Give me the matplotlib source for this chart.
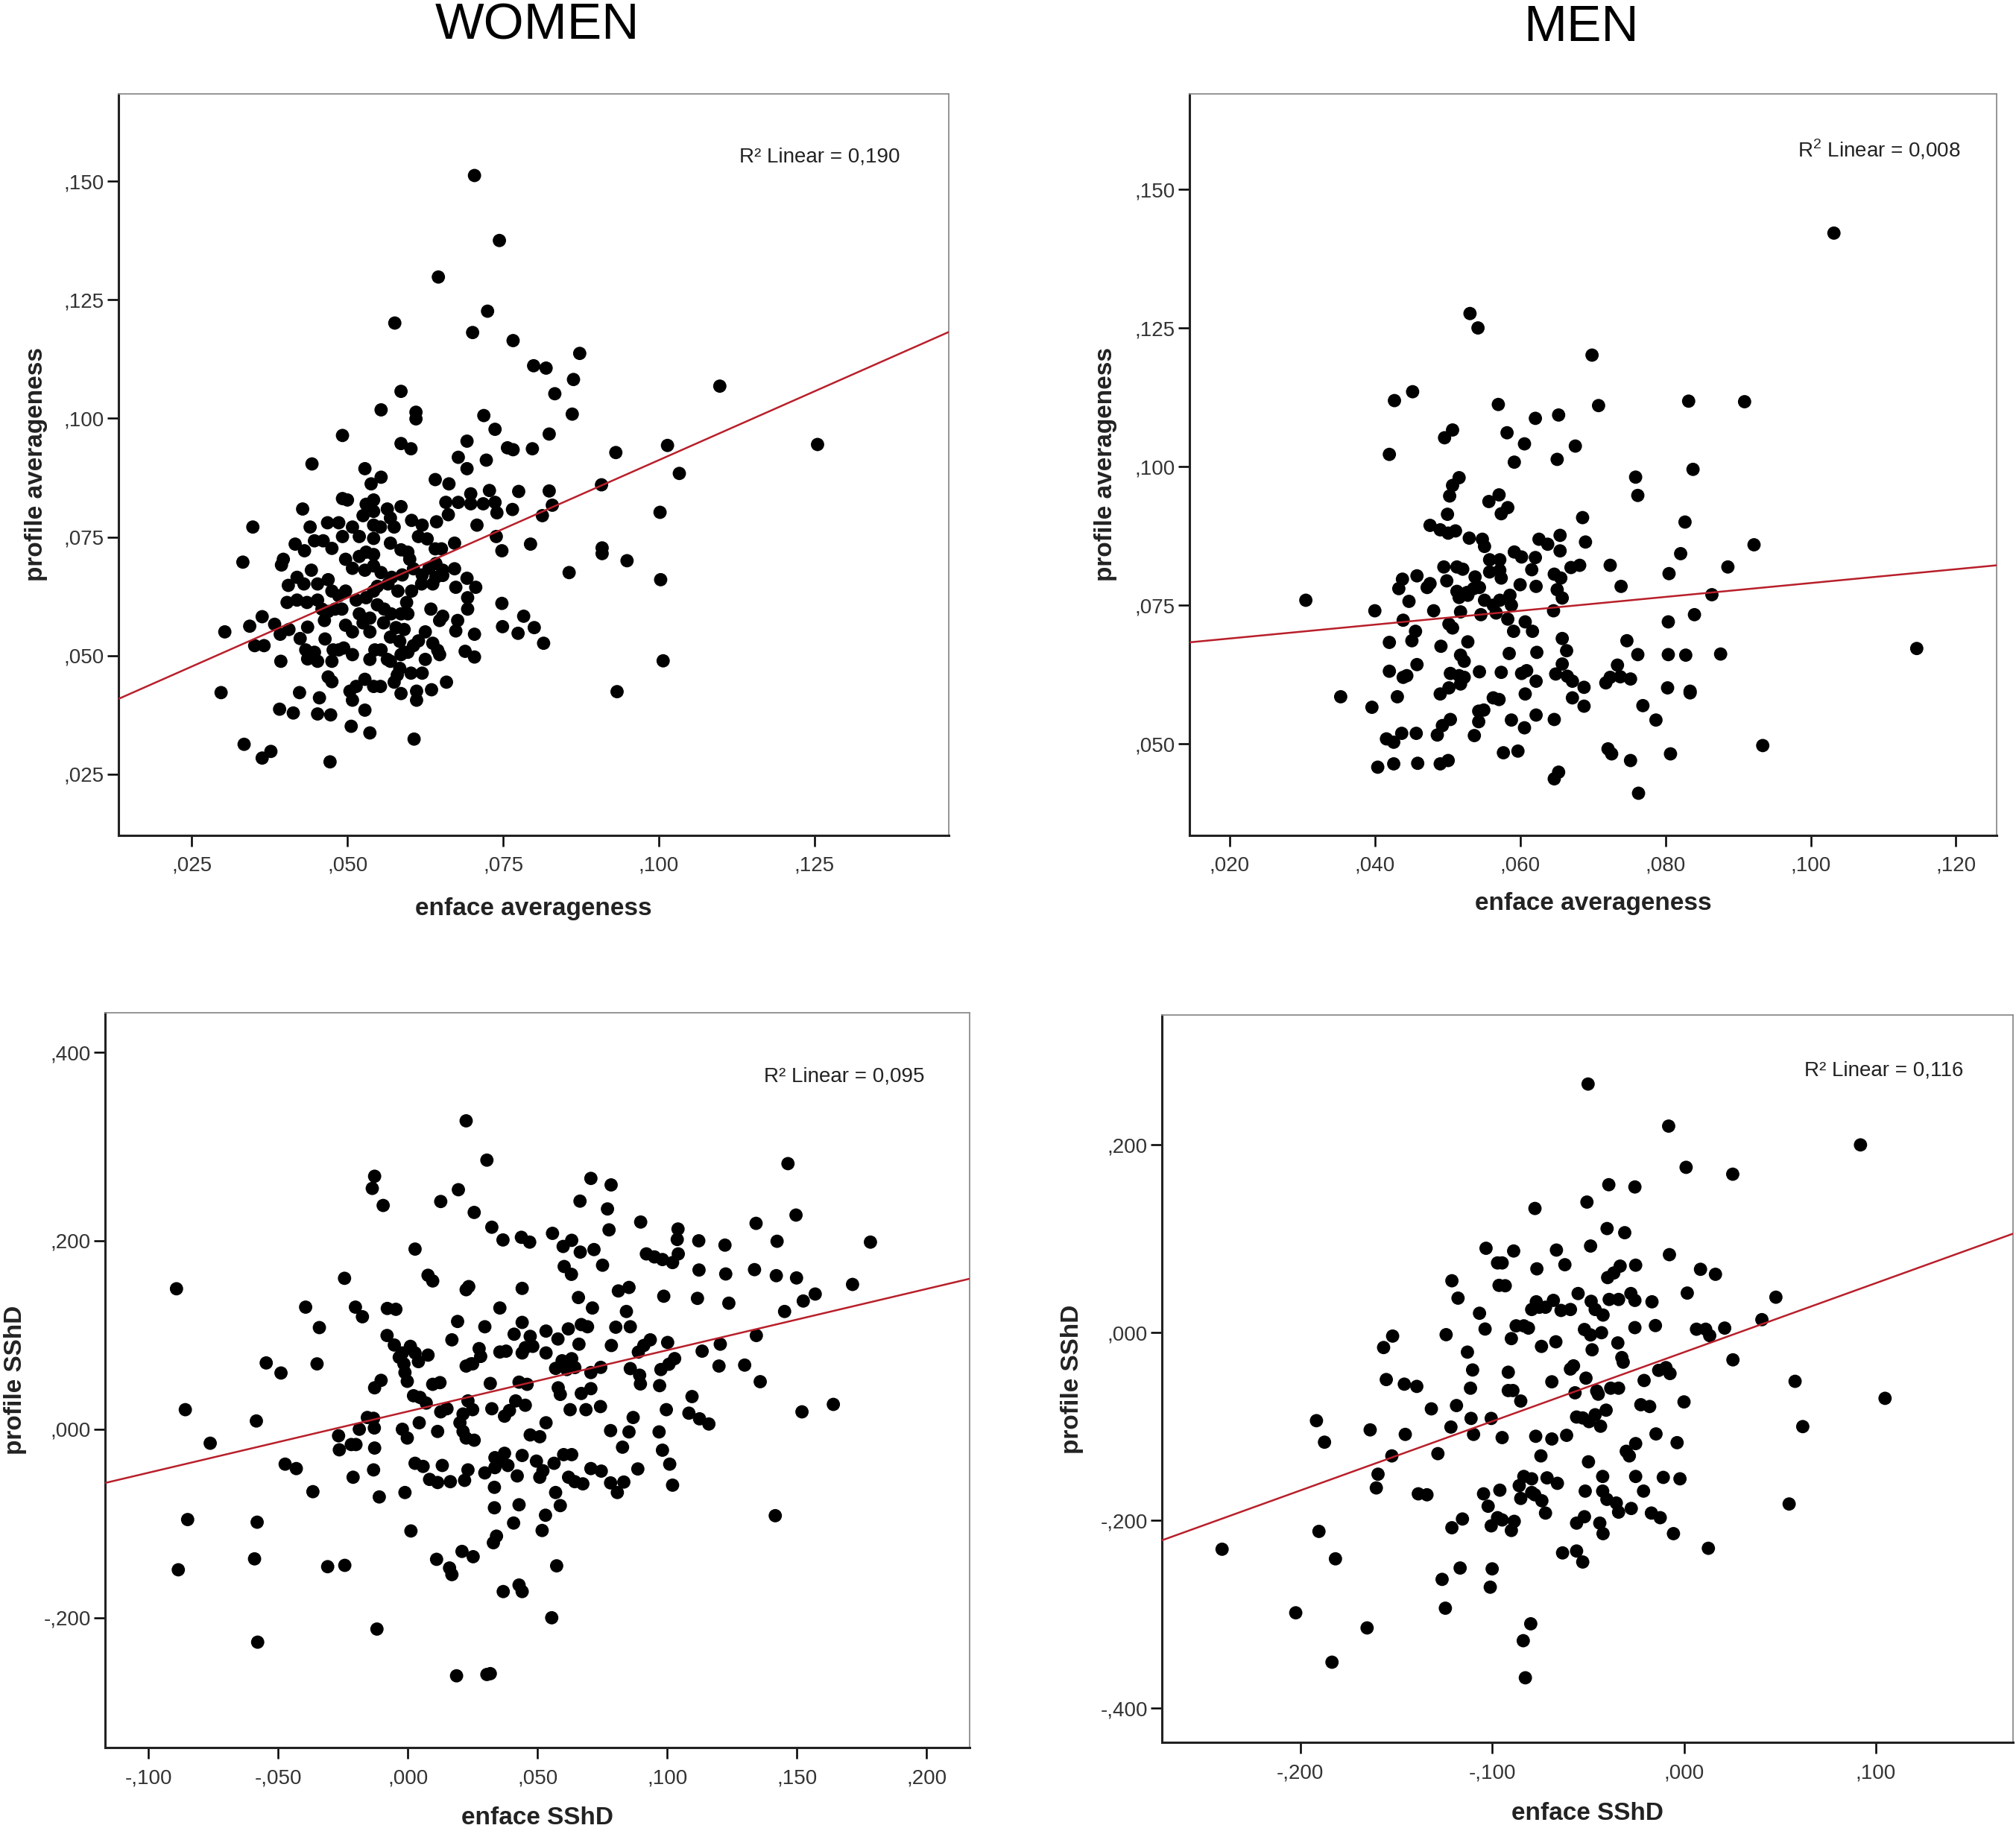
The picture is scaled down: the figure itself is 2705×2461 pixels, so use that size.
import matplotlib.pyplot as plt
import numpy as np
from matplotlib.ticker import FuncFormatter

plt.rcParams["font.family"] = ["Liberation Sans", "DejaVu Sans"]
plt.rcParams["mathtext.fontset"] = "custom"
plt.rcParams["mathtext.rm"] = "Liberation Sans"

# women: enface averageness vs profile averageness
women_avg = np.array([
    (0.0704, 0.1512), (0.0744, 0.1375), (0.0646, 0.1298), (0.0725, 0.1226), (0.0576, 0.1201),
    (0.0701, 0.1181), (0.0766, 0.1164), (0.0873, 0.1137), (0.0799, 0.1111), (0.0819, 0.1106),
    (0.0833, 0.1052), (0.0863, 0.1082), (0.0586, 0.1057), (0.0554, 0.1018), (0.0610, 0.1013),
    (0.0610, 0.0999), (0.0719, 0.1006), (0.0861, 0.1009), (0.0737, 0.0977), (0.0492, 0.0964),
    (0.0824, 0.0967), (0.0586, 0.0947), (0.0602, 0.0936), (0.0692, 0.0952), (0.0757, 0.0938),
    (0.0766, 0.0934), (0.0797, 0.0936), (0.0931, 0.0928), (0.0443, 0.0904), (0.0678, 0.0918),
    (0.0723, 0.0912), (0.0692, 0.0894), (0.0528, 0.0894), (0.0554, 0.0876), (0.0538, 0.0862),
    (0.0641, 0.0871), (0.0663, 0.0862), (0.0908, 0.0860), (0.0728, 0.0848), (0.0775, 0.0846),
    (0.0824, 0.0847), (0.0698, 0.0841), (0.0698, 0.0820), (0.0718, 0.0820), (0.0737, 0.0823),
    (0.0829, 0.0817), (0.0813, 0.0795), (0.0658, 0.0823), (0.0678, 0.0823), (0.0765, 0.0808),
    (0.0740, 0.0801), (0.0662, 0.0797), (0.0643, 0.0782), (0.0708, 0.0775), (0.0739, 0.0751),
    (0.0794, 0.0735), (0.0748, 0.0721), (0.0909, 0.0727), (0.0909, 0.0715), (0.0856, 0.0675),
    (0.0672, 0.0737), (0.0641, 0.0725), (0.0651, 0.0725), (0.0748, 0.0610), (0.0783, 0.0583),
    (0.0749, 0.0561), (0.0800, 0.0559), (0.0774, 0.0547), (0.0815, 0.0526), (0.0672, 0.0683),
    (0.0692, 0.0663), (0.0706, 0.0644), (0.0693, 0.0622), (0.0693, 0.0598), (0.0674, 0.0644),
    (0.0677, 0.0574), (0.0674, 0.0552), (0.0704, 0.0545), (0.0689, 0.0509), (0.0704, 0.0497),
    (0.0659, 0.0444), (0.0635, 0.0428), (0.0607, 0.0324), (0.0933, 0.0424),
    (0.0348, 0.0771), (0.0332, 0.0697), (0.0303, 0.0550), (0.0297, 0.0422), (0.0334, 0.0313),
    (0.0363, 0.0284), (0.0377, 0.0298), (0.0472, 0.0276), (0.0343, 0.0562), (0.0363, 0.0582),
    (0.0351, 0.0521), (0.0366, 0.0521), (0.0383, 0.0566), (0.0392, 0.0545), (0.0406, 0.0555),
    (0.0393, 0.0488), (0.0391, 0.0387), (0.0413, 0.0379), (0.0423, 0.0422), (0.0452, 0.0377),
    (0.0473, 0.0375), (0.0455, 0.0411), (0.0394, 0.0691), (0.0397, 0.0703), (0.0416, 0.0735),
    (0.0428, 0.0809), (0.0431, 0.0721), (0.0440, 0.0771), (0.0447, 0.0742), (0.0442, 0.0680),
    (0.0419, 0.0665), (0.0430, 0.0651), (0.0405, 0.0648), (0.0403, 0.0612), (0.0419, 0.0617),
    (0.0435, 0.0612), (0.0452, 0.0651), (0.0469, 0.0660), (0.0461, 0.0742), (0.0475, 0.0726),
    (0.0468, 0.0780), (0.0486, 0.0780), (0.0492, 0.0831), (0.0500, 0.0828), (0.0508, 0.0771),
    (0.0492, 0.0751), (0.0497, 0.0703), (0.0508, 0.0684), (0.0452, 0.0617), (0.0459, 0.0598),
    (0.0463, 0.0574), (0.0436, 0.0560), (0.0433, 0.0512), (0.0447, 0.0507), (0.0424, 0.0536),
    (0.0436, 0.0493), (0.0452, 0.0488), (0.0475, 0.0488), (0.0469, 0.0455), (0.0475, 0.0445),
    (0.0464, 0.0535), (0.0477, 0.0512), (0.0486, 0.0512), (0.0469, 0.0593), (0.0480, 0.0598),
    (0.0497, 0.0636), (0.0491, 0.0598), (0.0497, 0.0564), (0.0508, 0.0550), (0.0514, 0.0617),
    (0.0519, 0.0588), (0.0525, 0.0569), (0.0508, 0.0502), (0.0494, 0.0516), (0.0504, 0.0425),
    (0.0514, 0.0435), (0.0508, 0.0406), (0.0528, 0.0385), (0.0506, 0.0351), (0.0536, 0.0337),
    (0.0528, 0.0450), (0.0542, 0.0435), (0.0553, 0.0435), (0.0536, 0.0492), (0.0544, 0.0512),
    (0.0554, 0.0512), (0.0564, 0.0492), (0.0536, 0.0550), (0.0536, 0.0579), (0.0530, 0.0622),
    (0.0542, 0.0636), (0.0528, 0.0680), (0.0542, 0.0689), (0.0519, 0.0709), (0.0530, 0.0718),
    (0.0542, 0.0713), (0.0519, 0.0751), (0.0542, 0.0747), (0.0525, 0.0795), (0.0542, 0.0804),
    (0.0530, 0.0819), (0.0542, 0.0828), (0.0542, 0.0775), (0.0553, 0.0771), (0.0569, 0.0790),
    (0.0564, 0.0809), (0.0586, 0.0814), (0.0575, 0.0771), (0.0569, 0.0737), (0.0586, 0.0723),
    (0.0597, 0.0718), (0.0554, 0.0675), (0.0571, 0.0665), (0.0588, 0.0670), (0.0548, 0.0646),
    (0.0565, 0.0651), (0.0581, 0.0636), (0.0548, 0.0607), (0.0559, 0.0598), (0.0570, 0.0588),
    (0.0558, 0.0569), (0.0578, 0.0559), (0.0586, 0.0588), (0.0595, 0.0612), (0.0597, 0.0588),
    (0.0591, 0.0555), (0.0569, 0.0539), (0.0584, 0.0530), (0.0586, 0.0502), (0.0597, 0.0507),
    (0.0606, 0.0521), (0.0569, 0.0488), (0.0584, 0.0473), (0.0580, 0.0459), (0.0575, 0.0444),
    (0.0602, 0.0463), (0.0586, 0.0420), (0.0611, 0.0425), (0.0611, 0.0406), (0.0603, 0.0636),
    (0.0619, 0.0651), (0.0606, 0.0683), (0.0600, 0.0703), (0.0614, 0.0751), (0.0620, 0.0775),
    (0.0603, 0.0785), (0.0628, 0.0746), (0.0620, 0.0670), (0.0631, 0.0684), (0.0642, 0.0694),
    (0.0653, 0.0680), (0.0642, 0.0665), (0.0653, 0.0669), (0.0637, 0.0651), (0.0634, 0.0598),
    (0.0648, 0.0574), (0.0653, 0.0583), (0.0625, 0.0550), (0.0614, 0.0531), (0.0637, 0.0526),
    (0.0645, 0.0511), (0.0648, 0.0502), (0.0625, 0.0492), (0.0620, 0.0463), (0.0591, 0.0507),
    (0.0475, 0.0636), (0.0486, 0.0626),
    (0.1098, 0.1068), (0.1014, 0.0943), (0.1255, 0.0945), (0.1033, 0.0884), (0.1002, 0.0802),
    (0.0949, 0.0700), (0.1003, 0.0660), (0.1007, 0.0489),
])

# men: enface averageness vs profile averageness
men_avg = np.array([
    (0.0531, 0.1276), (0.0542, 0.1250), (0.0699, 0.1201), (0.0452, 0.1135), (0.0427, 0.1119),
    (0.0570, 0.1112), (0.0708, 0.1110), (0.0832, 0.1118), (0.0621, 0.1087), (0.0653, 0.1093),
    (0.0507, 0.1066), (0.0496, 0.1052), (0.0582, 0.1061), (0.0606, 0.1041), (0.0676, 0.1037),
    (0.0420, 0.1022), (0.0592, 0.1008), (0.0651, 0.1013), (0.0838, 0.0995), (0.0759, 0.0981),
    (0.0762, 0.0948), (0.0516, 0.0980), (0.0507, 0.0966), (0.0503, 0.0947), (0.0571, 0.0949),
    (0.0557, 0.0937), (0.0583, 0.0926), (0.0574, 0.0915), (0.0500, 0.0914), (0.0686, 0.0908),
    (0.0827, 0.0900), (0.0476, 0.0894), (0.0490, 0.0886), (0.0501, 0.0880), (0.0511, 0.0884),
    (0.0530, 0.0871), (0.0548, 0.0869), (0.0551, 0.0856), (0.0626, 0.0869), (0.0638, 0.0860),
    (0.0655, 0.0876), (0.0655, 0.0848), (0.0690, 0.0864), (0.0592, 0.0846), (0.0602, 0.0837),
    (0.0621, 0.0836), (0.0558, 0.0832), (0.0572, 0.0832), (0.0821, 0.0843), (0.0495, 0.0819),
    (0.0513, 0.0819), (0.0521, 0.0815), (0.0558, 0.0810), (0.0572, 0.0813), (0.0574, 0.0799),
    (0.0616, 0.0814), (0.0670, 0.0818), (0.0682, 0.0822), (0.0724, 0.0822), (0.0805, 0.0807),
    (0.0438, 0.0797), (0.0458, 0.0803), (0.0499, 0.0794), (0.0538, 0.0801), (0.0647, 0.0806),
    (0.0656, 0.0799), (0.0433, 0.0780), (0.0472, 0.0782), (0.0476, 0.0789), (0.0600, 0.0787),
    (0.0622, 0.0784), (0.0739, 0.0784), (0.0513, 0.0775), (0.0527, 0.0773), (0.0536, 0.0780),
    (0.0544, 0.0782), (0.0516, 0.0764), (0.0528, 0.0768), (0.0651, 0.0778), (0.0658, 0.0763),
    (0.0447, 0.0757), (0.0551, 0.0759), (0.0563, 0.0750), (0.0572, 0.0759), (0.0586, 0.0768),
    (0.0588, 0.0750), (0.0864, 0.0769), (0.0400, 0.0740), (0.0481, 0.0740), (0.0518, 0.0738),
    (0.0546, 0.0733), (0.0567, 0.0736), (0.0646, 0.0740), (0.0439, 0.0723), (0.0583, 0.0725),
    (0.0607, 0.0720), (0.0591, 0.0703), (0.0617, 0.0703), (0.0502, 0.0716), (0.0507, 0.0709),
    (0.0804, 0.0720), (0.0840, 0.0733), (0.0305, 0.0759), (0.0456, 0.0703), (0.0451, 0.0686),
    (0.0420, 0.0683), (0.0491, 0.0676), (0.0528, 0.0684), (0.0658, 0.0690), (0.0664, 0.0668),
    (0.0747, 0.0686), (0.0623, 0.0665), (0.0585, 0.0663), (0.0518, 0.0660), (0.0523, 0.0649),
    (0.0762, 0.0661), (0.0804, 0.0661), (0.0828, 0.0660), (0.0458, 0.0643), (0.0658, 0.0644),
    (0.0734, 0.0642), (0.0420, 0.0631), (0.0439, 0.0620), (0.0444, 0.0623), (0.0504, 0.0627),
    (0.0516, 0.0623), (0.0523, 0.0620), (0.0544, 0.0630), (0.0574, 0.0629), (0.0602, 0.0627),
    (0.0609, 0.0632), (0.0622, 0.0613), (0.0649, 0.0626), (0.0665, 0.0622), (0.0672, 0.0613),
    (0.0688, 0.0602), (0.0718, 0.0610), (0.0724, 0.0620), (0.0738, 0.0621), (0.0752, 0.0617),
    (0.0803, 0.0601), (0.0834, 0.0595), (0.0834, 0.0592), (0.0502, 0.0601), (0.0518, 0.0608),
    (0.0490, 0.0590), (0.0607, 0.0590), (0.0353, 0.0585), (0.0431, 0.0585), (0.0563, 0.0583),
    (0.0571, 0.0580), (0.0672, 0.0583), (0.0688, 0.0568), (0.0769, 0.0569), (0.0396, 0.0566),
    (0.0543, 0.0559), (0.0550, 0.0561), (0.0504, 0.0544), (0.0493, 0.0533), (0.0543, 0.0540),
    (0.0588, 0.0543), (0.0622, 0.0552), (0.0647, 0.0544), (0.0606, 0.0529), (0.0787, 0.0543),
    (0.0437, 0.0519), (0.0457, 0.0519), (0.0486, 0.0516), (0.0537, 0.0515), (0.0416, 0.0509),
    (0.0426, 0.0503), (0.0577, 0.0484), (0.0597, 0.0487), (0.0721, 0.0491), (0.0726, 0.0482),
    (0.0807, 0.0482), (0.0404, 0.0458), (0.0426, 0.0464), (0.0459, 0.0465), (0.0490, 0.0464),
    (0.0501, 0.0470), (0.0752, 0.0470), (0.0647, 0.0437), (0.0653, 0.0449), (0.0763, 0.0411),
    (0.1032, 0.1421), (0.0909, 0.1117), (0.0922, 0.0859), (0.0886, 0.0819), (0.0876, 0.0662),
    (0.1146, 0.0672), (0.0934, 0.0497),
])

# women: enface SShD vs profile SShD
women_sshd = np.array([
    (0.0225, 0.3273), (0.0305, 0.2856), (-0.0128, 0.2685), (-0.0137, 0.2556), (-0.0095, 0.2375),
    (0.0127, 0.2417), (0.0195, 0.2542), (0.0256, 0.2301), (0.0706, 0.2662), (0.0664, 0.2421),
    (0.0324, 0.2144), (0.0367, 0.2009), (0.0438, 0.2037), (0.0470, 0.1986), (0.0558, 0.2079),
    (0.0599, 0.1940), (0.0632, 0.2005), (0.0665, 0.1880), (0.0718, 0.1907), (0.0028, 0.1912),
    (0.0603, 0.1727), (0.0631, 0.1644), (-0.0892, 0.1491), (-0.0244, 0.1602), (0.0078, 0.1634),
    (0.0096, 0.1574), (0.0225, 0.1481), (0.0235, 0.1514), (0.0441, 0.1495), (0.0658, 0.1398),
    (0.0712, 0.1287), (-0.0394, 0.1296), (-0.0202, 0.1296), (-0.0175, 0.1194), (-0.0079, 0.1282),
    (-0.0046, 0.1273), (0.0355, 0.1287), (-0.0341, 0.1079), (0.0192, 0.1144), (0.0297, 0.1088),
    (0.0170, 0.0949), (0.0410, 0.1009), (0.0441, 0.1134), (0.0472, 0.0986), (0.0533, 0.1042),
    (0.0579, 0.0958), (0.0619, 0.1065), (0.0669, 0.1111), (0.0693, 0.1088), (0.0660, 0.0903),
    (-0.0080, 0.0995), (-0.0052, 0.0894), (-0.0021, 0.0810), (0.0010, 0.0880), (0.0028, 0.0810),
    (0.0041, 0.0718), (-0.0033, 0.0764), (-0.0015, 0.0694), (0.0078, 0.0787), (0.0275, 0.0856),
    (0.0250, 0.0694), (0.0281, 0.0773), (0.0355, 0.0820), (0.0379, 0.0829), (0.0441, 0.0810),
    (0.0453, 0.0866), (0.0482, 0.0880), (0.0533, 0.0810), (0.0225, 0.0671), (0.0244, 0.0694),
    (0.0595, 0.0727), (0.0632, 0.0749), (0.0613, 0.0634), (0.0570, 0.0646), (0.0644, 0.0655),
    (0.0706, 0.0602), (-0.0546, 0.0704), (-0.0489, 0.0597), (-0.0350, 0.0694), (-0.0103, 0.0519),
    (-0.0128, 0.0440), (-0.0011, 0.0602), (-0.0002, 0.0509), (0.0096, 0.0477), (0.0124, 0.0495),
    (0.0318, 0.0486), (0.0429, 0.0500), (0.0460, 0.0477), (0.0580, 0.0440), (0.0588, 0.0370),
    (0.0669, 0.0380), (0.0706, 0.0431), (0.0022, 0.0356), (0.0047, 0.0338), (0.0071, 0.0278),
    (0.0127, 0.0185), (0.0151, 0.0218), (0.0232, 0.0301), (0.0250, 0.0208), (0.0213, 0.0162),
    (0.0201, 0.0069), (0.0324, 0.0218), (0.0373, 0.0139), (0.0392, 0.0199), (0.0416, 0.0301),
    (0.0453, 0.0255), (0.0626, 0.0208), (0.0687, 0.0208), (0.0533, 0.0069), (-0.0858, 0.0208),
    (-0.0584, 0.0088), (-0.0762, -0.0148), (-0.0267, -0.0069), (-0.0264, -0.0218), (-0.0218, -0.0162),
    (-0.0200, -0.0162), (-0.0187, 0.0000), (-0.0156, 0.0125), (-0.0132, 0.0116), (-0.0129, 0.0014),
    (-0.0128, -0.0199), (-0.0021, 0.0000), (-0.0002, -0.0093), (0.0044, 0.0069), (0.0115, -0.0023),
    (0.0213, -0.0023), (0.0225, -0.0093), (0.0256, -0.0116), (0.0472, -0.0060), (0.0509, -0.0079),
    (0.0373, -0.0255), (0.0348, -0.0347), (0.0336, -0.0301), (0.0386, -0.0384), (0.0441, -0.0278),
    (0.0496, -0.0338), (0.0521, -0.0440), (0.0509, -0.0509), (0.0564, -0.0361), (0.0601, -0.0269),
    (0.0632, -0.0269), (0.0620, -0.0509), (0.0644, -0.0556), (0.0675, -0.0579), (0.0706, -0.0417),
    (0.0422, -0.0495), (0.0297, -0.0463), (0.0336, -0.0407), (0.0232, -0.0431), (0.0219, -0.0542),
    (0.0164, -0.0556), (0.0133, -0.0384), (0.0028, -0.0361), (0.0059, -0.0394), (0.0084, -0.0532),
    (0.0115, -0.0565), (-0.0473, -0.0370), (-0.0430, -0.0417), (-0.0211, -0.0509), (-0.0132, -0.0431),
    (-0.0366, -0.0662), (-0.0110, -0.0718), (-0.0011, -0.0671), (0.0334, -0.0616), (0.0334, -0.0833),
    (0.0429, -0.0801), (0.0570, -0.0671), (0.0588, -0.0810), (0.0531, -0.0912), (0.0518, -0.1074),
    (0.0408, -0.0995), (0.0342, -0.1134), (0.0330, -0.1204), (-0.0849, -0.0958), (-0.0581, -0.0986),
    (0.0012, -0.1079), (-0.0885, -0.1491), (-0.0591, -0.1375), (-0.0309, -0.1458), (-0.0243, -0.1444),
    (0.0111, -0.1380), (0.0161, -0.1472), (0.0170, -0.1542), (0.0209, -0.1296), (0.0252, -0.1352),
    (0.0574, -0.1449), (0.0368, -0.1722), (0.0429, -0.1653), (0.0441, -0.1722), (0.0555, -0.2000),
    (-0.0119, -0.2120), (-0.0579, -0.2259), (0.0188, -0.2616), (0.0305, -0.2602), (0.0318, -0.2593),
    (0.0784, 0.2593), (0.0770, 0.2338), (0.0776, 0.2116), (0.0898, 0.2199), (0.1042, 0.2125),
    (0.1039, 0.2014), (0.1122, 0.2000), (0.1223, 0.1954), (0.1343, 0.2185), (0.1424, 0.1995),
    (0.1466, 0.2819), (0.1497, 0.2273), (0.1784, 0.1986), (0.0751, 0.1741),
    (0.0920, 0.1861), (0.0951, 0.1829), (0.0982, 0.1801), (0.1021, 0.1769), (0.1043, 0.1861),
    (0.1123, 0.1690), (0.1226, 0.1648), (0.1337, 0.1694), (0.1421, 0.1630), (0.1499, 0.1606),
    (0.1715, 0.1537), (0.0987, 0.1412), (0.1117, 0.1389), (0.1238, 0.1338), (0.1571, 0.1435),
    (0.1525, 0.1361), (0.1453, 0.1250), (0.0812, 0.1468), (0.0853, 0.1505), (0.0843, 0.1250),
    (0.0802, 0.1083), (0.0858, 0.1088), (0.0785, 0.0889), (0.0889, 0.0819), (0.0910, 0.0889),
    (0.0935, 0.0949), (0.1002, 0.0921), (0.1135, 0.0829), (0.1205, 0.0903), (0.1344, 0.0995),
    (0.1029, 0.0750), (0.1007, 0.0690), (0.0976, 0.0634), (0.0858, 0.0644), (0.0894, 0.0574),
    (0.0897, 0.0481), (0.0744, 0.0657), (0.1200, 0.0671), (0.1299, 0.0681), (0.1359, 0.0505),
    (0.0971, 0.0463), (0.1096, 0.0347), (0.1084, 0.0171), (0.1125, 0.0111), (0.1161, 0.0056),
    (0.0997, 0.0208), (0.0743, 0.0241), (0.1520, 0.0185), (0.1641, 0.0264), (0.0869, 0.0125),
    (0.0782, -0.0014), (0.0853, -0.0028), (0.0828, -0.0190), (0.0969, -0.0028), (0.0982, -0.0222),
    (0.1010, -0.0370), (0.0887, -0.0421), (0.1021, -0.0593), (0.0746, -0.0444), (0.0782, -0.0569),
    (0.0808, -0.0671), (0.0833, -0.0560), (0.1417, -0.0917),
])

# men: enface SShD vs profile SShD
men_sshd = np.array([
    (-0.0500, 0.2648), (-0.0392, 0.1576), (-0.0256, 0.1552), (-0.0506, 0.1391), (-0.0777, 0.1323),
    (-0.0401, 0.1109), (-0.0309, 0.1065), (-0.0487, 0.0923), (-0.1032, 0.0899), (-0.0888, 0.0870),
    (-0.0665, 0.0880), (-0.0972, 0.0743), (-0.0948, 0.0743), (-0.0767, 0.0680), (-0.0621, 0.0724),
    (-0.0398, 0.0587), (-0.0366, 0.0636), (-0.0333, 0.0709), (-0.0252, 0.0719), (-0.1210, 0.0553),
    (-0.0964, 0.0504), (-0.0932, 0.0500), (-0.1178, 0.0368), (-0.0770, 0.0329), (-0.0754, 0.0271),
    (-0.0794, 0.0247), (-0.0722, 0.0271), (-0.0681, 0.0344), (-0.0641, 0.0237), (-0.0592, 0.0247),
    (-0.0552, 0.0417), (-0.0484, 0.0334), (-0.0390, 0.0354), (-0.0341, 0.0354), (-0.0277, 0.0417),
    (-0.0256, 0.0344), (-0.0463, 0.0247), (-0.0422, 0.0188), (-0.1066, 0.0207), (-0.1037, 0.0039),
    (-0.0900, -0.0063), (-0.0875, 0.0073), (-0.0835, 0.0073), (-0.0811, 0.0049), (-0.1240, -0.0021),
    (-0.0743, -0.0146), (-0.0668, -0.0097), (-0.0519, 0.0034), (-0.0487, -0.0024), (-0.0430, 0.0000),
    (-0.0479, -0.0182), (-0.0345, -0.0109), (-0.0324, -0.0265), (-0.0317, -0.0314), (-0.0256, 0.0054),
    (-0.1519, -0.0036), (-0.1566, -0.0158), (-0.1129, -0.0207), (-0.1102, -0.0397), (-0.0592, -0.0387),
    (-0.0576, -0.0353), (-0.0916, -0.0421), (-0.0689, -0.0523), (-0.0511, -0.0484), (-0.1552, -0.0499),
    (-0.1458, -0.0548), (-0.1393, -0.0572), (-0.1113, -0.0591), (-0.0916, -0.0616), (-0.0892, -0.0616),
    (-0.0568, -0.0640), (-0.0455, -0.0621), (-0.0447, -0.0655), (-0.0382, -0.0591), (-0.0341, -0.0591),
    (-0.0851, -0.0728), (-0.1317, -0.0811), (-0.1186, -0.0776), (-0.0406, -0.0825), (-0.0528, -0.0908),
    (-0.0495, -0.0947), (-0.0463, -0.0874), (-0.0560, -0.0898), (-0.0435, -0.0996), (-0.1110, -0.0913),
    (-0.1005, -0.0913), (-0.1916, -0.0937), (-0.1636, -0.1035), (-0.1215, -0.1005), (-0.1453, -0.1083),
    (-0.1097, -0.1083), (-0.0948, -0.1117), (-0.0773, -0.1103), (-0.0689, -0.1132), (-0.0612, -0.1093),
    (-0.0252, -0.1181), (-0.1874, -0.1166), (-0.1523, -0.1312), (-0.1283, -0.1288), (-0.0746, -0.1312),
    (-0.0301, -0.1263), (-0.0285, -0.1312), (-0.0498, -0.1375), (-0.1595, -0.1507), (-0.1604, -0.1653),
    (-0.0835, -0.1531), (-0.0794, -0.1556), (-0.0859, -0.1629), (-0.0714, -0.1546), (-0.0660, -0.1604),
    (-0.0424, -0.1531), (-0.0252, -0.1531), (-0.1385, -0.1716), (-0.1340, -0.1726), (-0.0960, -0.1677),
    (-0.1045, -0.1716), (-0.0851, -0.1765), (-0.0794, -0.1702), (-0.0778, -0.1726), (-0.0741, -0.1790),
    (-0.0722, -0.1921), (-0.0515, -0.1687), (-0.0424, -0.1687), (-0.0402, -0.1775), (-0.0353, -0.1814),
    (-0.0341, -0.1911), (-0.0275, -0.1872), (-0.1021, -0.1848), (-0.1005, -0.2057), (-0.0972, -0.1970),
    (-0.0948, -0.1994), (-0.1210, -0.2077), (-0.1155, -0.1984), (-0.0900, -0.2106), (-0.0885, -0.2009),
    (-0.0560, -0.2028), (-0.0519, -0.1960), (-0.0439, -0.2028), (-0.0422, -0.2140), (-0.1903, -0.2116),
    (-0.2408, -0.2306), (-0.1817, -0.2408), (-0.0633, -0.2345), (-0.0560, -0.2325), (-0.0528, -0.2442),
    (-0.1167, -0.2506), (-0.1000, -0.2515), (-0.1010, -0.2710), (-0.1261, -0.2627), (-0.1244, -0.2934),
    (-0.2024, -0.2983), (-0.1652, -0.3144), (-0.0799, -0.3100), (-0.0838, -0.3280), (-0.1835, -0.3509),
    (-0.0827, -0.3675),
    (-0.0080, 0.2200), (0.0920, 0.2000), (0.0011, 0.1761), (0.0254, 0.1688), (-0.0076, 0.0831),
    (0.0086, 0.0675), (0.0164, 0.0622), (0.0017, 0.0422), (0.0479, 0.0378), (-0.0167, 0.0329),
    (0.0406, 0.0139), (-0.0149, 0.0076), (0.0065, 0.0037), (0.0113, 0.0037), (0.0134, -0.0031),
    (0.0212, 0.0049), (0.0255, -0.0289), (-0.0132, -0.0401), (-0.0094, -0.0372), (-0.0073, -0.0435),
    (-0.0208, -0.0509), (0.0579, -0.0518), (0.1048, -0.0699), (-0.0225, -0.0767), (-0.0179, -0.0786),
    (0.0000, -0.0737), (0.0619, -0.1000), (-0.0146, -0.1078), (-0.0036, -0.1171), (-0.0108, -0.1541),
    (-0.0021, -0.1556), (-0.0211, -0.1687), (-0.0170, -0.1921), (-0.0124, -0.1970), (-0.0055, -0.2140),
    (0.0127, -0.2296), (0.0548, -0.1824),
])

# linear fit lines (intercept, slope) and R² labels
fit_intercepts = [0.0332, 0.0665, 0.0189, -0.0208]
fit_slopes = [0.580, 0.125, 0.650, 0.736]
r2_labels = ["R² Linear = 0,190", r"R$^\mathrm{2}$ Linear = 0,008",
             "R² Linear = 0,095", "R² Linear = 0,116"]

x_ticks = [
    [0.025, 0.050, 0.075, 0.100, 0.125],
    [0.020, 0.040, 0.060, 0.080, 0.100, 0.120],
    [-0.100, -0.050, 0.000, 0.050, 0.100, 0.150, 0.200],
    [-0.200, -0.100, 0.000, 0.100],
]
y_ticks = [
    [0.025, 0.050, 0.075, 0.100, 0.125, 0.150],
    [0.050, 0.075, 0.100, 0.125, 0.150],
    [-0.200, 0.000, 0.200, 0.400],
    [-0.400, -0.200, 0.000, 0.200],
]
x_labels = ["enface averageness", "enface averageness", "enface SShD", "enface SShD"]
y_labels = ["profile averageness", "profile averageness", "profile SShD", "profile SShD"]


def spss_fmt(v, pos):
    s = f"{abs(v):.3f}"[1:].replace(".", ",")
    return "-" + s if v < -1e-9 else s


panels = [
    dict(data=women_avg, rect=[0.0587, 0.5445, 0.4120, 0.4043],
         xlim=(0.0132, 0.1466), ylim=(0.0121, 0.1684),
         r2xy=(0.941, 0.915), xlab=-0.083, ylab=-0.085),
    dict(data=men_avg, rect=[0.5899, 0.5445, 0.4005, 0.4043],
         xlim=(0.01445, 0.1256), ylim=(0.0335, 0.1672),
         r2xy=(0.955, 0.925), xlab=-0.076, ylab=-0.089),
    dict(data=women_sshd, rect=[0.0523, 0.0470, 0.4286, 0.4008],
         xlim=(-0.1166, 0.2166), ylim=(-0.338, 0.442),
         r2xy=(0.948, 0.913), xlab=-0.080, ylab=-0.091),
    dict(data=men_sshd, rect=[0.5765, 0.0498, 0.4222, 0.3966],
         xlim=(-0.272, 0.1717), ylim=(-0.4366, 0.338),
         r2xy=(0.941, 0.924), xlab=-0.081, ylab=-0.092),
]

fig = plt.figure(figsize=(27.05, 24.61), dpi=100)

for i, p in enumerate(panels):
    ax = fig.add_axes(p["rect"])
    d = p["data"]
    ax.scatter(d[:, 0], d[:, 1], s=165, color="black", edgecolors="none", zorder=2)

    xs = np.array(p["xlim"])
    ax.plot(xs, fit_intercepts[i] + fit_slopes[i] * xs, color="#b81f2a", lw=1.8, zorder=3)

    ax.set_xlim(*p["xlim"])
    ax.set_ylim(*p["ylim"])
    ax.set_xticks(x_ticks[i])
    ax.set_yticks(y_ticks[i])
    ax.xaxis.set_major_formatter(FuncFormatter(spss_fmt))
    ax.yaxis.set_major_formatter(FuncFormatter(spss_fmt))
    ax.tick_params(direction="out", length=11, width=1.8, labelsize=20,
                   labelcolor="#333333")
    ax.tick_params(axis="x", pad=9)
    ax.tick_params(axis="y", pad=3)

    for side in ["left", "bottom"]:
        ax.spines[side].set_color("#222222")
        ax.spines[side].set_linewidth(2.2)
    for side in ["top", "right"]:
        ax.spines[side].set_color("#8c8c8c")
        ax.spines[side].set_linewidth(1.3)

    ax.set_xlabel(x_labels[i], fontsize=24, fontweight="bold", color="#222222")
    ax.set_ylabel(y_labels[i], fontsize=24, fontweight="bold", color="#222222")
    ax.xaxis.set_label_coords(0.5, p["xlab"])
    ax.yaxis.set_label_coords(p["ylab"], 0.5)

    ax.text(p["r2xy"][0], p["r2xy"][1], r2_labels[i], transform=ax.transAxes,
            ha="right", va="center", fontsize=20, color="#222222")

fig.text(0.2666, 0.986, "WOMEN", ha="center", va="center", fontsize=50)
fig.text(0.7844, 0.985, "MEN", ha="center", va="center", fontsize=50)

plt.savefig("out.png", dpi=100)
